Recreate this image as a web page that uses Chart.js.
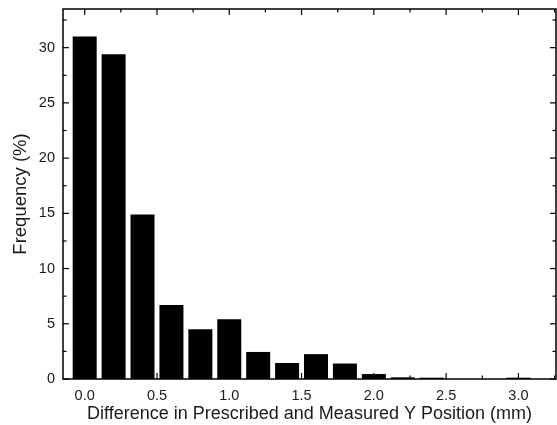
<!DOCTYPE html>
<html>
<head>
<meta charset="utf-8">
<script src="https://cdn.jsdelivr.net/npm/chart.js@4.4.1/dist/chart.umd.min.js"></script>
<style>
  html, body { margin: 0; padding: 0; background: #fff; }
  #wrap { width: 557px; height: 425px; }
</style>
</head>
<body>
<div id="wrap"><canvas id="chartHist" width="557" height="425"></canvas></div>
<script>
// bin centres (mm) and frequency (%)
const binCenters = [0.0, 0.2, 0.4, 0.6, 0.8, 1.0, 1.2, 1.4, 1.6, 1.8, 2.0, 2.2, 2.4, 2.6, 2.8, 3.0];
const frequency  = [31.0, 29.4, 14.9, 6.7, 4.5, 5.4, 2.45, 1.45, 2.25, 1.4, 0.45, 0.15, 0.12, 0, 0, 0.12];

const xMajorTicks = [0, 0.5, 1.0, 1.5, 2.0, 2.5, 3.0];
const yMajorTicks = [0, 5, 10, 15, 20, 25, 30];

const xTitle = 'Difference in Prescribed and Measured Y Position (mm)';
const yTitle = 'Frequency (%)';

const textColor = '#1a1a1a';
const fontFam = '"Liberation Sans", Arial, sans-serif';

// frame + inward ticks on all four sides
const frameTicks = {
  id: 'frameTicks',
  afterDraw(chart) {
    const { ctx, chartArea: a, scales } = chart;
    const xs = scales.x, ys = scales.y;
    ctx.save();
    ctx.strokeStyle = '#000';
    ctx.lineWidth = 1.5;
    ctx.strokeRect(a.left, a.top, a.right - a.left, a.bottom - a.top);

    ctx.lineWidth = 1.2;
    const mark = (x1, y1, x2, y2) => { ctx.beginPath(); ctx.moveTo(x1, y1); ctx.lineTo(x2, y2); ctx.stroke(); };

    xMajorTicks.forEach(v => {
      const p = xs.getPixelForValue(v);
      mark(p, a.bottom, p, a.bottom - 6);
      mark(p, a.top, p, a.top + 6);
      const m = xs.getPixelForValue(v + 0.25);
      if (m < a.right) {
        mark(m, a.bottom, m, a.bottom - 3.5);
        mark(m, a.top, m, a.top + 3.5);
      }
    });
    yMajorTicks.forEach(v => {
      const p = ys.getPixelForValue(v);
      mark(a.left, p, a.left + 6, p);
      mark(a.right, p, a.right - 6, p);
      const m = ys.getPixelForValue(v + 2.5);
      if (m > a.top) {
        mark(a.left, m, a.left + 3.5, m);
        mark(a.right, m, a.right - 3.5, m);
      }
    });
    ctx.restore();
  }
};

const chartConfig = {
  type: 'bar',
  data: {
    datasets: [{
      data: binCenters.map((x, i) => ({ x: x, y: frequency[i] })),
      backgroundColor: '#000',
      borderWidth: 0,
      categoryPercentage: 1.0,
      barPercentage: 0.83
    }]
  },
  options: {
    responsive: false,
    animation: false,
    layout: { padding: { top: 9, right: 1, left: 0, bottom: 0 } },
    plugins: { legend: { display: false }, tooltip: { enabled: false } },
    scales: {
      x: {
        type: 'linear',
        offset: false,
        min: -0.15,
        max: 3.26,
        grid: { display: false, drawTicks: false, offset: false },
        border: { display: false },
        afterBuildTicks: s => { s.ticks = xMajorTicks.map(v => ({ value: v })); },
        afterFit: s => { s.height = 46; s.paddingLeft = 0; s.paddingRight = 0; },
        ticks: {
          padding: 8,
          color: textColor,
          font: { family: fontFam, size: 14.5 },
          callback: v => Number(v).toFixed(1),
          maxRotation: 0,
          autoSkip: false
        },
        title: {
          display: true,
          text: xTitle,
          color: textColor,
          font: { family: fontFam, size: 18 },
          padding: { top: 0, bottom: 0 }
        }
      },
      y: {
        min: 0,
        max: 33.5,
        grid: { display: false, drawTicks: false },
        border: { display: false },
        afterBuildTicks: s => { s.ticks = yMajorTicks.map(v => ({ value: v })); },
        afterFit: s => { s.width = 63; s.paddingTop = 0; s.paddingBottom = 0; },
        ticks: {
          padding: 8,
          color: textColor,
          font: { family: fontFam, size: 14.5 },
          autoSkip: false
        },
        title: {
          display: true,
          text: yTitle,
          color: textColor,
          font: { family: fontFam, size: 18.5 },
          padding: { top: 10, bottom: 4 }
        }
      }
    }
  },
  plugins: [frameTicks]
};

const ctx = document.getElementById('chartHist').getContext('2d');
new Chart(ctx, chartConfig);
</script>
</body>
</html>
